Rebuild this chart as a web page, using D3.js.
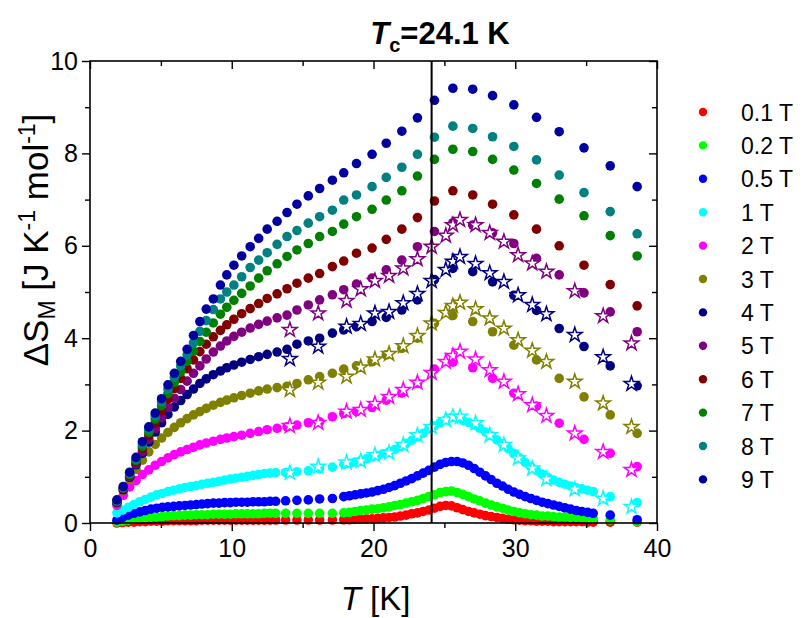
<!DOCTYPE html>
<html><head><meta charset="utf-8">
<script src="https://cdn.jsdelivr.net/npm/d3@7"></script>
<style>body{margin:0;background:#fff} svg{display:block}</style>
</head><body>
<svg id="chart" width="803" height="618"></svg>
<script>
// ---------------- data ----------------
const fields = ["0.1 T","0.2 T","0.5 T","1 T","2 T","3 T","4 T","5 T","6 T","7 T","8 T","9 T"];
const colors = ["#ff0000","#00ff00","#0000ff","#00ffff","#ff00ff","#808000","#000080","#800080","#800000","#008000","#008080","#0000a0"];
const Tc = 24.1;
const xTicks = [0,10,20,30,40];
const xMinorTicks = [5,15,25,35];
const yTicks = [0,2,4,6,8,10];
const yMinorTicks = [1,3,5,7,9];

// temperature grid of the low-field runs (0.1 - 1 T)
const tempDense = [
 1.9,2.3,2.7,3.1,3.5,3.9,4.3,4.7,5.1,5.5,5.9,6.3,6.7,7.1,7.5,7.9,8.3,8.7,9.1,9.5,9.9,10.3,10.7,11.1,11.5,11.9,12.3,12.7,
 13.1,13.8,14.6,15.4,16.2,17.1,
 17.9,18.3,18.7,19.1,19.5,19.9,20.3,20.7,21.1,21.5,21.9,22.3,22.7,23.1,23.5,23.9,24.3,24.7,25.1,25.5,25.9,26.3,26.7,27.1,27.5,27.9,28.3,28.7,29.1,29.5,29.9,30.3,30.7,31.1,31.5,31.9,32.3,32.7,33.1,33.5,33.9,34.3,34.7,35.1,35.5,
 36.7,38.6];
// temperature grid of the high-field runs (2 - 9 T)
const tempSparse = [
 1.9,2.35,2.8,3.25,3.7,4.15,4.6,5.05,5.5,5.95,6.4,6.85,7.3,7.75,8.2,8.7,9.2,9.65,10.15,10.7,11.3,11.9,12.5,13.2,
 13.9,14.6,15.4,16.2,17.1,17.9,18.8,19.9,20.9,22.0,23.1,24.3,25.6,27.0,28.4,29.9,31.5,33.1,34.85,36.7,38.6];
// temperature grid of the open-star runs
const tempStars = [14.1,16.1,18.1,19.1,20.1,21.1,22.1,23.1,24.1,25.1,25.6,26.1,27.2,28.2,29.2,30.2,31.2,32.2,34.2,36.2,38.2];

const dS_0p1T = [
 0.00,0.01,0.02,0.02,0.03,0.03,0.04,0.04,0.04,0.05,0.05,0.05,0.05,0.05,0.05,0.06,0.06,0.06,0.06,0.06,0.06,0.06,0.06,0.06,0.06,0.06,0.06,0.06,
 0.065,0.065,0.065,0.065,0.065,0.065,
 0.07,0.07,0.08,0.08,0.09,0.09,0.10,0.11,0.12,0.13,0.15,0.17,0.20,0.22,0.25,0.28,0.32,0.36,0.38,0.37,0.33,0.29,0.25,0.22,0.19,0.16,0.14,0.12,0.10,0.08,0.07,0.06,0.05,0.05,0.04,0.04,0.04,0.03,0.03,0.03,0.03,0.03,0.03,0.02,0.02,
 0.02,0.02];
const dS_0p2T = [
 0.02,0.04,0.06,0.08,0.10,0.11,0.12,0.13,0.14,0.15,0.16,0.16,0.17,0.17,0.18,0.18,0.18,0.19,0.19,0.19,0.19,0.20,0.20,0.20,0.20,0.20,0.21,0.21,
 0.21,0.21,0.21,0.21,0.21,0.21,
 0.22,0.23,0.25,0.27,0.28,0.30,0.31,0.33,0.35,0.38,0.40,0.43,0.46,0.49,0.53,0.57,0.61,0.66,0.68,0.69,0.66,0.62,0.57,0.52,0.48,0.43,0.39,0.35,0.32,0.28,0.25,0.22,0.20,0.18,0.17,0.15,0.15,0.14,0.13,0.13,0.12,0.12,0.11,0.10,0.09,
 0.065,0.03];
const dS_0p5T = [
 0.06,0.12,0.17,0.21,0.24,0.27,0.30,0.32,0.34,0.35,0.36,0.37,0.38,0.39,0.40,0.41,0.42,0.43,0.43,0.44,0.44,0.45,0.45,0.45,0.46,0.46,0.46,0.47,
 0.47,0.48,0.49,0.50,0.52,0.53,
 0.57,0.59,0.61,0.63,0.65,0.67,0.70,0.73,0.77,0.81,0.86,0.91,0.96,1.02,1.08,1.14,1.21,1.27,1.31,1.33,1.33,1.30,1.25,1.18,1.10,1.02,0.94,0.86,0.80,0.73,0.67,0.62,0.57,0.53,0.49,0.45,0.42,0.39,0.36,0.33,0.30,0.27,0.25,0.23,0.21,
 0.17,0.07];
const dS_1T = [
 0.22,0.28,0.34,0.40,0.46,0.51,0.56,0.61,0.64,0.68,0.71,0.74,0.77,0.79,0.81,0.84,0.86,0.88,0.90,0.93,0.95,0.97,0.99,1.01,1.03,1.05,1.07,1.08,
 1.09,1.09,1.11,1.13,1.17,1.21,
 1.27,1.29,1.32,1.35,1.39,1.43,1.46,1.50,1.54,1.59,1.65,1.72,1.79,1.86,1.94,2.03,2.10,2.17,2.23,2.28,2.27,2.22,2.18,2.12,2.05,1.97,1.89,1.80,1.71,1.61,1.51,1.41,1.31,1.22,1.14,1.06,0.99,0.93,0.88,0.84,0.80,0.76,0.74,0.71,0.68,
 0.57,0.44];
const dS_2T = [
 0.38,0.60,0.78,0.92,1.05,1.15,1.25,1.33,1.41,1.48,1.54,1.59,1.64,1.69,1.73,1.77,1.81,1.84,1.87,1.90,1.94,1.98,2.02,2.05,
 2.08,2.12,2.17,2.19,2.30,2.37,2.41,2.50,2.66,2.81,3.02,3.33,3.48,3.36,3.13,2.81,2.53,2.16,1.81,1.51,1.22];
const dS_3T = [
 0.42,0.70,0.94,1.16,1.36,1.54,1.70,1.84,1.96,2.07,2.17,2.26,2.34,2.41,2.48,2.55,2.61,2.66,2.71,2.76,2.81,2.86,2.90,2.93,
 2.96,3.02,3.10,3.17,3.24,3.33,3.40,3.49,3.64,3.78,4.00,4.32,4.49,4.36,4.14,3.85,3.53,3.13,2.73,2.34,1.94];
const dS_4T = [
 0.44,0.72,0.99,1.26,1.51,1.75,1.97,2.17,2.35,2.51,2.65,2.78,2.90,3.02,3.12,3.21,3.29,3.36,3.42,3.48,3.54,3.60,3.65,3.70,
 3.76,3.87,3.94,4.00,4.11,4.18,4.25,4.36,4.45,4.61,4.83,5.27,5.51,5.44,5.22,4.93,4.60,4.21,3.82,3.40,2.97];
const dS_5T = [
 0.45,0.74,1.01,1.28,1.55,1.81,2.05,2.28,2.50,2.70,2.89,3.07,3.24,3.40,3.55,3.70,3.83,3.94,4.04,4.13,4.22,4.30,4.37,4.44,
 4.50,4.61,4.72,4.83,4.94,5.05,5.17,5.30,5.48,5.69,5.98,6.31,6.50,6.45,6.28,6.05,5.73,5.37,4.98,4.57,4.14];
const dS_6T = [
 0.46,0.75,1.03,1.32,1.61,1.89,2.16,2.43,2.68,2.91,3.13,3.34,3.53,3.71,3.87,4.03,4.17,4.29,4.41,4.53,4.64,4.75,4.86,4.96,
 5.07,5.19,5.30,5.40,5.55,5.67,5.84,5.95,6.14,6.36,6.61,6.97,7.19,7.10,6.90,6.67,6.36,6.00,5.58,5.16,4.70];
const dS_7T = [
 0.47,0.76,1.05,1.35,1.66,1.96,2.25,2.54,2.80,3.04,3.27,3.50,3.72,3.93,4.13,4.33,4.52,4.67,4.82,4.97,5.13,5.30,5.46,5.61,
 5.77,5.91,6.05,6.20,6.31,6.47,6.63,6.79,6.99,7.19,7.51,7.87,8.09,8.04,7.87,7.64,7.35,7.01,6.65,6.22,5.78];
const dS_8T = [
 0.48,0.77,1.07,1.38,1.71,2.02,2.32,2.62,2.90,3.15,3.40,3.64,3.90,4.15,4.38,4.62,4.85,5.00,5.15,5.33,5.53,5.69,5.85,6.03,
 6.20,6.33,6.49,6.63,6.77,6.99,7.10,7.28,7.48,7.70,7.98,8.35,8.59,8.54,8.36,8.15,7.86,7.53,7.15,6.74,6.26];
const dS_9T = [
 0.50,0.79,1.10,1.42,1.76,2.08,2.38,2.69,2.99,3.24,3.50,3.76,4.06,4.36,4.63,4.85,5.15,5.37,5.58,5.78,5.98,6.16,6.36,6.53,
 6.72,6.90,7.08,7.24,7.42,7.58,7.78,7.98,8.22,8.48,8.77,9.15,9.41,9.39,9.25,9.05,8.78,8.47,8.12,7.73,7.28];

// open stars (second measurement set)
const star_1T = [1.09,1.22,1.31,1.34,1.47,1.52,1.69,1.90,2.08,2.23,2.30,2.30,2.16,1.90,1.69,1.40,1.18,0.95,0.73,0.53,0.35];
const star_2T = [2.10,2.17,2.41,2.45,2.58,2.73,2.88,3.04,3.25,3.49,3.62,3.71,3.54,3.31,3.06,2.79,2.55,2.32,1.94,1.54,1.15];
const star_3T = [2.88,3.04,3.17,3.37,3.54,3.66,3.83,4.05,4.32,4.55,4.70,4.77,4.63,4.43,4.21,3.96,3.73,3.49,3.06,2.59,2.08];
const star_4T = [3.55,3.82,4.25,4.31,4.54,4.57,4.76,4.96,5.24,5.48,5.66,5.76,5.61,5.41,5.22,4.93,4.72,4.52,4.07,3.59,3.01];
const star_5T = [4.18,4.54,4.81,5.06,5.24,5.35,5.51,5.71,5.98,6.22,6.45,6.56,6.45,6.28,6.09,5.80,5.62,5.44,5.02,4.48,3.89];

// ---------------- build series ----------------
const circleSeries = [
  {T: tempDense,  v: dS_0p1T, c: 0},
  {T: tempDense,  v: dS_0p2T, c: 1},
  {T: tempDense,  v: dS_0p5T, c: 2},
  {T: tempDense,  v: dS_1T,   c: 3},
  {T: tempSparse, v: dS_2T,   c: 4},
  {T: tempSparse, v: dS_3T,   c: 5},
  {T: tempSparse, v: dS_4T,   c: 6},
  {T: tempSparse, v: dS_5T,   c: 7},
  {T: tempSparse, v: dS_6T,   c: 8},
  {T: tempSparse, v: dS_7T,   c: 9},
  {T: tempSparse, v: dS_8T,   c: 10},
  {T: tempSparse, v: dS_9T,   c: 11}
];
const starSeries = [
  {T: tempStars, v: star_1T, c: 3},
  {T: tempStars, v: star_2T, c: 4},
  {T: tempStars, v: star_3T, c: 5},
  {T: tempStars, v: star_4T, c: 6},
  {T: tempStars, v: star_5T, c: 7}
];

// ---------------- drawing ----------------
const FONT = "'Liberation Sans', Arial, Helvetica, sans-serif";
const svg = d3.select("#chart");
const L = 90, R = 657, TOP = 61, BOT = 523;
const x = d3.scaleLinear().domain([0,40]).range([L,R]);
const y = d3.scaleLinear().domain([0,10]).range([BOT,TOP]);

svg.append("rect").attr("width",803).attr("height",618).attr("fill","#fff");

const plot = svg.append("g");
circleSeries.forEach(s => {
  plot.append("g").selectAll("circle")
    .data(s.T.map((t,i)=>[t,s.v[i]]))
    .join("circle")
    .attr("cx", d=>x(d[0])).attr("cy", d=>y(d[1])).attr("r", 4.8)
    .attr("fill", colors[s.c]);
});
const star = d3.symbol().type(d3.symbolStar).size(66);
starSeries.forEach(s => {
  plot.append("g").selectAll("path")
    .data(s.T.map((t,i)=>[t,s.v[i]]))
    .join("path")
    .attr("d", star)
    .attr("transform", d=>`translate(${x(d[0])},${y(d[1])})`)
    .attr("fill","#fff").attr("stroke", colors[s.c]).attr("stroke-width",1.5)
    .attr("stroke-linejoin","miter");
});

svg.append("line").attr("x1",x(Tc)).attr("x2",x(Tc)).attr("y1",y(10)).attr("y2",y(0))
  .attr("stroke","#000").attr("stroke-width",2);

function styleAxis(g){
  g.select(".domain").remove();
  g.selectAll(".tick line").attr("stroke","#000").attr("stroke-width",1.4);
  g.selectAll("text").attr("font-family",FONT).attr("font-size",25).attr("fill","#000");
}
svg.append("g").attr("transform",`translate(0,${BOT})`)
  .call(d3.axisBottom(x).tickValues(xTicks).tickSize(8).tickPadding(8).tickFormat(d3.format("d"))).call(styleAxis);
svg.append("g").attr("transform",`translate(0,${BOT})`)
  .call(d3.axisBottom(x).tickValues(xMinorTicks).tickSize(5).tickFormat("")).call(styleAxis);
svg.append("g").attr("transform",`translate(${L},0)`)
  .call(d3.axisLeft(y).tickValues(yTicks).tickSize(8).tickPadding(4).tickFormat(d3.format("d"))).call(styleAxis);
svg.append("g").attr("transform",`translate(${L},0)`)
  .call(d3.axisLeft(y).tickValues(yMinorTicks).tickSize(5).tickFormat("")).call(styleAxis);
svg.append("g").attr("transform",`translate(0,${TOP})`)
  .call(d3.axisTop(x).tickValues(xTicks).tickSize(-8).tickFormat("")).call(styleAxis);
svg.append("g").attr("transform",`translate(0,${TOP})`)
  .call(d3.axisTop(x).tickValues(xMinorTicks).tickSize(-5).tickFormat("")).call(styleAxis);
svg.append("g").attr("transform",`translate(${R},0)`)
  .call(d3.axisRight(y).tickValues(yTicks).tickSize(-8).tickFormat("")).call(styleAxis);
svg.append("g").attr("transform",`translate(${R},0)`)
  .call(d3.axisRight(y).tickValues(yMinorTicks).tickSize(-5).tickFormat("")).call(styleAxis);

svg.append("rect").attr("x",L).attr("y",TOP).attr("width",R-L).attr("height",BOT-TOP)
  .attr("fill","none").attr("stroke","#000").attr("stroke-width",1.6);

// title
const title = svg.append("text").attr("x",440).attr("y",44).attr("text-anchor","middle")
  .attr("font-family",FONT).attr("font-weight","bold").attr("font-size",31).attr("fill","#000");
title.append("tspan").attr("font-style","italic").text("T");
title.append("tspan").attr("font-size",20).attr("dy",8).text("c");
title.append("tspan").attr("dy",-8).text("=24.1 K");

// x label
const xl = svg.append("text").attr("x",(L+R)/2 + 2).attr("y",610).attr("text-anchor","middle")
  .attr("font-family",FONT).attr("font-size",33).attr("fill","#000");
xl.append("tspan").attr("font-style","italic").text("T");
xl.append("tspan").text(" [K]");

// y label
const yl = svg.append("text").attr("transform","translate(48,240) rotate(-90)").attr("text-anchor","middle")
  .attr("font-family",FONT).attr("font-size",35).attr("fill","#000");
yl.append("tspan").text("\u0394S");
yl.append("tspan").attr("font-size",23).attr("dy",7).text("M");
yl.append("tspan").attr("dy",-7).text(" [J K");
yl.append("tspan").attr("font-size",23).attr("dy",-13).text("-1");
yl.append("tspan").attr("dy",13).text(" mol");
yl.append("tspan").attr("font-size",23).attr("dy",-13).text("-1");
yl.append("tspan").attr("dy",13).text("]");

// legend
const leg = svg.append("g");
fields.forEach((f,i) => {
  const yy = 112 + i*33.4;
  leg.append("circle").attr("cx",703).attr("cy",yy).attr("r",4.2).attr("fill",colors[i]);
  leg.append("text").attr("x",741).attr("y",yy+8.5).attr("font-family",FONT).attr("font-size",23)
    .attr("fill","#000").text(f);
});
</script>
</body></html>
